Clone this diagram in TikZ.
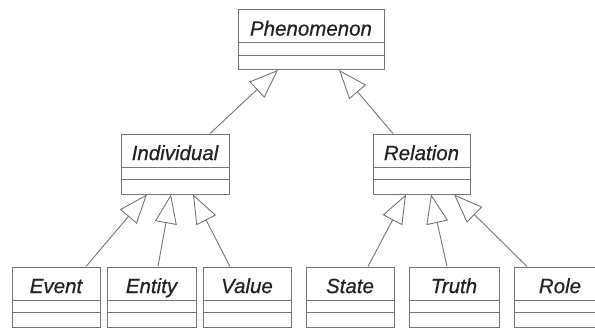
\documentclass[tikz,border=0pt]{standalone}
\usepackage{fontspec}
\setmainfont{Liberation Sans}
\newfontfamily\classfont{Liberation Sans}[RawFeature={embolden=0.5}]
\usetikzlibrary{arrows.meta}
\definecolor{linegray}{HTML}{757575}
\definecolor{inkgray}{HTML}{222222}
\begin{document}
\begin{tikzpicture}[x=1pt,y=-1pt]
\tikzset{
  classbox/.style={draw=linegray, line width=0.9pt, fill=white,
    minimum width=#1, minimum height=60pt, inner sep=0pt,
    path picture={
      \draw[linegray, line width=0.9pt]
        ([yshift=-33pt]path picture bounding box.north west) --
        ([yshift=-33pt]path picture bounding box.north east);
      \draw[linegray, line width=0.9pt]
        ([yshift=-45.5pt]path picture bounding box.north west) --
        ([yshift=-45.5pt]path picture bounding box.north east);
    }},
  classname/.style={anchor=center, yshift=-21pt, inner sep=0pt,
    text height=15pt, text depth=4pt,
    text=inkgray, font=\classfont\fontsize{20.5}{24}\selectfont\itshape},
  generalization/.style={draw=linegray, line width=0.9pt,
    -{Triangle[open, length=29pt, width=22pt, fill=white]}},
}
\useasboundingbox (0,0) rectangle (595,329);
\clip (0,0) rectangle (595,329);

% class boxes
\node[classbox=146pt, label={[classname, name=phenT]north:Phenomenon}] (phen) at (311,39.5) {};
\node[classbox=108pt, label={[classname, name=indivT]north:Individual}] (indiv) at (175,164) {};
\node[classbox=97pt,  label={[classname, name=relT]north:Relation}] (rel) at (421.5,164) {};
\node[classbox=88pt,  label={[classname, name=eventT]north:Event}] (event) at (56,297) {};
\node[classbox=89pt,  label={[classname, name=entityT]north:Entity}] (entity) at (151.5,297) {};
\node[classbox=88pt,  label={[classname, name=valueT]north:Value}] (value) at (247,297) {};
\node[classbox=88pt,  label={[classname, name=stateT]north:State}] (state) at (350,297) {};
\node[classbox=90pt,  label={[classname, name=truthT]north:Truth}] (truth) at (454,297) {};
\node[classbox=92pt,  label={[classname, name=roleT]north:Role}] (role) at (560,297) {};

% generalization arrows
\draw[generalization] ([xshift=35pt]indiv.north) -- ([xshift=-33pt]phen.south);
\draw[generalization] ([xshift=-28.5pt]rel.north) -- ([xshift=28pt]phen.south);
\draw[generalization] ([xshift=30pt]event.north) -- ([xshift=-28pt]indiv.south);
\draw[generalization] ([xshift=6.5pt]entity.north) -- ([xshift=-4pt]indiv.south);
\draw[generalization] ([xshift=-17pt]value.north) -- ([xshift=18pt]indiv.south);
\draw[generalization] ([xshift=18pt]state.north) -- ([xshift=-15.5pt]rel.south);
\draw[generalization] ([xshift=-7pt]truth.north) -- ([xshift=9.5pt]rel.south);
\draw[generalization] ([xshift=-33pt]role.north) -- ([xshift=32.5pt]rel.south);
\end{tikzpicture}
\end{document}
